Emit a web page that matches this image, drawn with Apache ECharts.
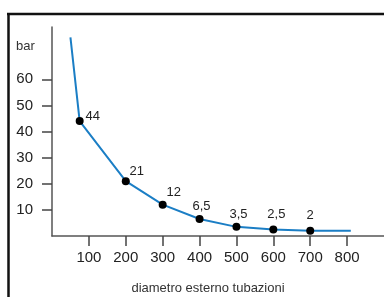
<!doctype html>
<html lang="it">

<head>
	<meta charset="utf-8" />
	<title>Pressione / diametro</title>
	<script src="https://cdn.jsdelivr.net/npm/echarts@6/dist/echarts.min.js"></script>
	<style>
		html, body { margin: 0; padding: 0; background: #fff; }
		#chart { width: 384px; height: 297px; }
	</style>
</head>

<body>
	<div id="chart"></div>
	<script>
		// diametro esterno (mm) and pressure (bar)
		const diametri = [50, 75, 200, 300, 400, 500, 600, 700, 810];
		const pressioni = [76, 44, 21, 12, 6.5, 3.5, 2.5, 2, 2];
		// points with a black dot and a value label
		const conPunto = [false, true, true, true, true, true, true, true, false];
		const xTicks = [100, 200, 300, 400, 500, 600, 700, 800];
		const yTicks = [10, 20, 30, 40, 50, 60];

		// where each value label sits relative to its dot
		const labelOffsets = [[0, 0], [13, -5], [11, -10], [11, -12], [2, -13], [2, -12], [3, -15], [0, -15], [0, 0]];

		const font = 'Liberation Sans, Arial, sans-serif';

		const data = diametri.map((d, i) => {
			const item = { value: [d, pressioni[i]] };
			if (!conPunto[i]) {
				item.symbol = 'none';
				item.label = { show: false };
			} else {
				item.label = { offset: labelOffsets[i] };
			}
			return item;
		});

		const chart = echarts.init(document.getElementById('chart'), null, { renderer: 'canvas' });
		chart.setOption({
			animation: false,
			grid: { left: 52, top: 27, width: 332, height: 209, containLabel: false, outerBoundsMode: 'none' },
			xAxis: {
				type: 'value',
				min: 0,
				max: 900,
				interval: 100,
				name: 'diametro esterno tubazioni',
				nameLocation: 'middle',
				nameGap: 46,
				nameTextStyle: { fontFamily: font, fontSize: 13, color: '#333', padding: [0, 20, 0, 0] },
				axisLine: { lineStyle: { color: '#555', width: 1.5 } },
				axisTick: { show: true, customValues: xTicks, length: 10, lineStyle: { color: '#444', width: 1.5 } },
				axisLabel: { customValues: xTicks, margin: 14, fontFamily: font, fontSize: 15, color: '#222' },
				splitLine: { show: false }
			},
			yAxis: {
				type: 'value',
				min: 0,
				max: 80,
				interval: 10,
				axisLine: { show: true, lineStyle: { color: '#555', width: 1.5 } },
				axisTick: { show: true, customValues: yTicks, length: 10, lineStyle: { color: '#444', width: 1.5 } },
				axisLabel: { customValues: yTicks, margin: 19, fontFamily: font, fontSize: 15, color: '#222' },
				splitLine: { show: false }
			},
			graphic: [
				{ type: 'line', shape: { x1: 7, y1: 14, x2: 384, y2: 14 }, style: { stroke: '#111', lineWidth: 2.5 } },
				{ type: 'line', shape: { x1: 8.5, y1: 13, x2: 8.5, y2: 297 }, style: { stroke: '#111', lineWidth: 2.5 } },
				{ type: 'text', left: 16, top: 40, style: { text: 'bar', font: '13px ' + font, fill: '#333' } }
			],
			series: [
				{
					type: 'line',
					data: data,
					smooth: false,
					symbol: 'circle',
					symbolSize: 8,
					showAllSymbol: true,
					itemStyle: { color: '#000' },
					lineStyle: { color: '#1b7ec5', width: 2 },
					label: {
						show: true,
						position: 'inside',
						fontFamily: font,
						fontSize: 13,
						color: '#222',
						formatter: p => String(p.value[1]).replace('.', ',')
					}
				}
			]
		});
	</script>
</body>

</html>
